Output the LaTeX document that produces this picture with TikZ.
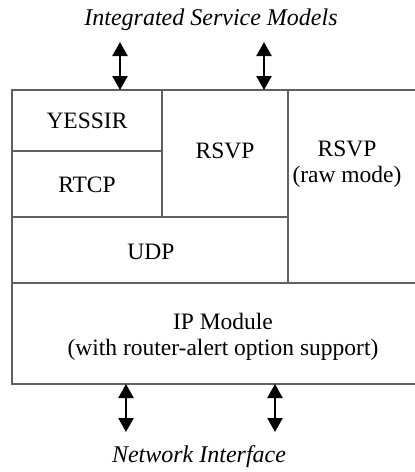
\documentclass[tikz,border=0pt]{standalone}
\usepackage{fontspec}
\setmainfont{Liberation Serif}
\usetikzlibrary{arrows.meta}
\begin{document}
\begin{tikzpicture}[x=1pt,y=-1pt,
  wall/.style={draw=black!62, line width=1.4pt},
  lbl/.style={font=\fontsize{23.5}{26}\selectfont, align=center, inner sep=0pt},
  tag/.style={font=\fontsize{24}{28}\selectfont\itshape, inner sep=0pt},
  io/.style={line width=2.4pt, {Triangle[width=15pt,length=14pt]}-{Triangle[width=15pt,length=14pt]}}]
\useasboundingbox (0,0) rectangle (415,472);

% protocol stack outline (runs off the right edge)
\draw[wall] (415,90) -- (12,90) -- (12,384) -- (415,384);
\draw[wall] (12,151) -- (162,151);
\draw[wall] (162,90) -- (162,217);
\draw[wall] (288,90) -- (288,283);
\draw[wall] (12,217) -- (288,217);
\draw[wall] (12,283) -- (415,283);

% layer labels
\node[lbl] (yessir) at (87,121) {YESSIR};
\node[lbl] (rtcp)   at (87,185) {RTCP};
\node[lbl] (rsvp)   at (225,151) {RSVP};
\node[lbl] (raw)    at (347,164) {RSVP\\(raw mode)};
\node[lbl] (udp)    at (151,252) {UDP};
\node[lbl] (ip)     at (223,337) {IP Module\\(with router-alert option support)};

% external interfaces
\node[tag] (ism) at (211,20) {Integrated Service Models};
\node[tag] (net) at (199,457) {Network Interface};

% arrow end points
\coordinate (u1) at (120,42);  \coordinate (s1) at (120,90);
\coordinate (u2) at (264,42);  \coordinate (s2) at (264,90);
\coordinate (b1) at (126,384); \coordinate (n1) at (126,432);
\coordinate (b2) at (275,384); \coordinate (n2) at (275,432);

\draw[io] (u1) -- (s1);
\draw[io] (u2) -- (s2);
\draw[io] (b1) -- (n1);
\draw[io] (b2) -- (n2);
\end{tikzpicture}
\end{document}
